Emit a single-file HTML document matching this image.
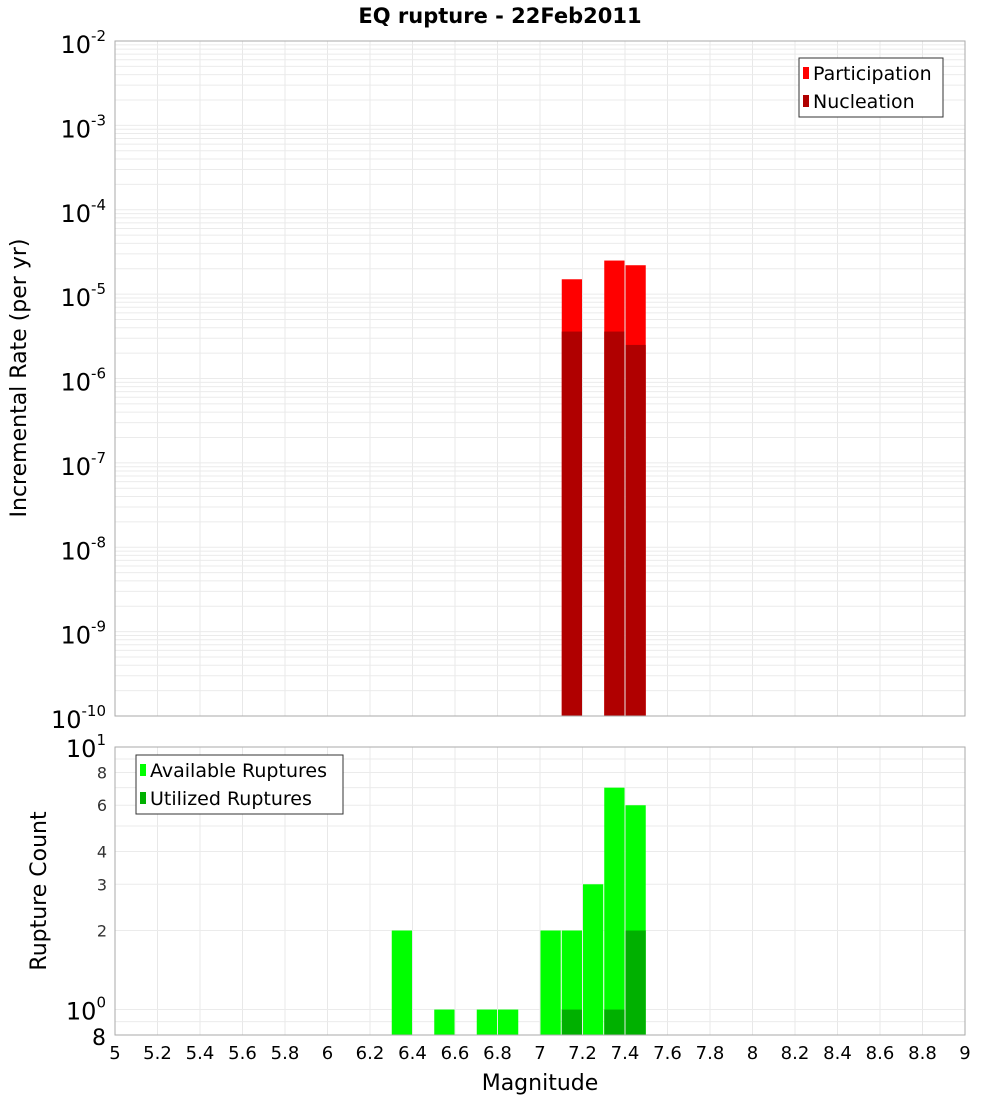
<!DOCTYPE html>
<html><head><meta charset="utf-8"><style>
body{margin:0;background:#fff;font-family:"DejaVu Sans","Liberation Sans",sans-serif}
</style></head><body>
<svg width="1000" height="1100" xmlns="http://www.w3.org/2000/svg" font-family="DejaVu Sans, Liberation Sans, sans-serif">
<text x="500" y="23" text-anchor="middle" font-size="21" font-weight="bold">EQ rupture - 22Feb2011</text>
<g id="topG"></g>
<g id="botG"></g>
<text transform="translate(26,378) rotate(-90)" text-anchor="middle" font-size="22">Incremental Rate (per yr)</text>
<text transform="translate(46,891) rotate(-90)" text-anchor="middle" font-size="22">Rupture Count</text>
<text x="540" y="1090" text-anchor="middle" font-size="22">Magnitude</text>
<g>
<rect x="799" y="58" width="144" height="59" fill="#fff" stroke="#333"/>
<rect x="803" y="67" width="6" height="12" fill="#ff0000"/>
<text x="813" y="80" font-size="19">Participation</text>
<rect x="803" y="95" width="6" height="12" fill="#b00000"/>
<text x="813" y="108" font-size="19">Nucleation</text>
</g>
<g>
<rect x="136" y="755" width="207" height="59" fill="#fff" stroke="#333"/>
<rect x="140" y="764" width="6" height="12" fill="#00ff00"/>
<text x="150" y="777" font-size="19">Available Ruptures</text>
<rect x="140" y="792" width="6" height="12" fill="#00b000"/>
<text x="150" y="805" font-size="19">Utilized Ruptures</text>
</g>
</svg>
<script>
const rateMags=[7.15,7.35,7.45];
const participation=[1.5e-5,2.5e-5,2.2e-5];
const nucleation=[3.6e-6,3.6e-6,2.5e-6];
const countMags=[6.35,6.55,6.75,6.85,7.05,7.15,7.25,7.35,7.45];
const available=[2,1,1,1,2,2,3,7,6];
const utilizedMags=[7.15,7.35,7.45];
const utilized=[1,1,2];
const xTicks=[5,5.2,5.4,5.6,5.8,6,6.2,6.4,6.6,6.8,7,7.2,7.4,7.6,7.8,8,8.2,8.4,8.6,8.8,9];
const rateDecades=[-10,-9,-8,-7,-6,-5,-4,-3,-2];
const countTicks=[2,3,4,6,8];

const NS='http://www.w3.org/2000/svg';
const L=115,R=965;
const x=m=>L+(m-5)/4*(R-L);
const T1=41,B1=716,T2=747,B2=1035;
const y1=v=>T1+(-2-Math.log10(v))/8*(B1-T1);
const lmin=Math.log10(0.8);
const y2=v=>B2-(Math.log10(v)-lmin)/(1-lmin)*(B2-T2);
function mk(p,tag,a,txt){const e=document.createElementNS(NS,tag);for(const k in a)e.setAttribute(k,a[k]);if(txt!=null)e.textContent=txt;p.appendChild(e);return e;}
const topG=document.getElementById('topG'),botG=document.getElementById('botG');
for(const t of xTicks){
 const g1=mk(topG,'line',{x1:x(t),x2:x(t),y1:T1,y2:B1,stroke:'#e8e8e8'});
 
 
 const g2=mk(botG,'line',{x1:x(t),x2:x(t),y1:T2,y2:B2,stroke:'#e8e8e8'});
 
 
 const tl=mk(botG,'text',{x:x(t),y:B2+24,'text-anchor':'middle','font-size':18},String(t));
 
 
}
for(let d=-10;d<-2;d++){for(let k=1;k<10;k++){const v=k*Math.pow(10,d);
 const g=mk(topG,'line',{x1:L,x2:R,y1:y1(v),y2:y1(v),stroke:'#ebebeb'});
 
 }}
for(const d of rateDecades){
 const tl=mk(topG,'text',{x:106,y:y1(Math.pow(10,d))+12,'text-anchor':'end','font-size':24});
 
 
 mk(tl,'tspan',{},'10');mk(tl,'tspan',{dy:-12,'font-size':15},String(d));
}
for(const v of [0.9,1,2,3,4,5,6,7,8,9,10]){
 const g=mk(botG,'line',{x1:L,x2:R,y1:y2(v),y2:y2(v),stroke:'#ebebeb'});
 
 }
for(const v of countTicks){
 const tl=mk(botG,'text',{x:107,y:y2(v)+6,'text-anchor':'end','font-size':16,fill:'#333'},String(v));
 
 }
[[10,'1'],[1,'0']].forEach(([v,e])=>{
 const tl=mk(botG,'text',{x:106,y:y2(v)+10,'text-anchor':'end','font-size':24});
 
 
 mk(tl,'tspan',{},'10');mk(tl,'tspan',{dy:-12,'font-size':15},e);});
const b8=mk(botG,'text',{x:106,y:B2+10,'text-anchor':'end','font-size':22},'8');


const hw=0.05;
rateMags.forEach((m,i)=>{
 const r=mk(topG,'rect',{x:x(m-hw)+0.5,width:x(m+hw)-x(m-hw)-1,y:y1(participation[i]),height:B1-y1(participation[i]),fill:'#ff0000'});
 
 
 const n=mk(topG,'rect',{x:x(m-hw)+0.5,width:x(m+hw)-x(m-hw)-1,y:y1(nucleation[i]),height:B1-y1(nucleation[i]),fill:'#b00000'});
 
 
});
countMags.forEach((m,i)=>{
 const r=mk(botG,'rect',{x:x(m-hw)+0.5,width:x(m+hw)-x(m-hw)-1,y:y2(available[i]),height:B2-y2(available[i]),fill:'#00ff00'});
 
 
});
utilizedMags.forEach((m,i)=>{
 const r=mk(botG,'rect',{x:x(m-hw)+0.5,width:x(m+hw)-x(m-hw)-1,y:y2(utilized[i]),height:B2-y2(utilized[i]),fill:'#00b000'});
 
 
});
const f1=mk(topG,'rect',{x:L,y:T1,width:R-L,height:B1-T1,fill:'none',stroke:'#aaa'});


const f2=mk(botG,'rect',{x:L,y:T2,width:R-L,height:B2-T2,fill:'none',stroke:'#aaa'});


</script>
</body></html>
